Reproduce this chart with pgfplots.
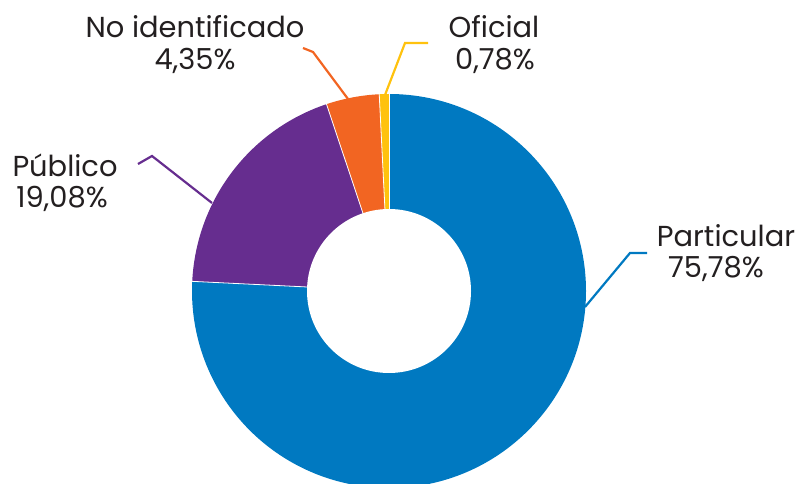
\documentclass[border=0pt]{standalone}
\usepackage{pgfplots}
\pgfplotsset{compat=1.18}
\usepackage{pgfplotstable}
\usepackage{fontspec}
\setmainfont{Poppins}
\usetikzlibrary{calc}
\definecolor{cBlue}{HTML}{0079C1}
\definecolor{cPurple}{HTML}{662D8F}
\definecolor{cOrange}{HTML}{F26522}
\definecolor{cYellow}{HTML}{FFC20E}
\definecolor{cText}{HTML}{231F20}
\pgfplotstableread{
name value
Particular 75.78
Publico 19.08
NoId 4.35
Oficial 0.78
}\piedata
\pgfplotstablegetelem{0}{value}\of\piedata \let\vA\pgfplotsretval
\pgfplotstablegetelem{1}{value}\of\piedata \let\vB\pgfplotsretval
\pgfplotstablegetelem{2}{value}\of\piedata \let\vC\pgfplotsretval
\pgfplotstablegetelem{3}{value}\of\piedata \let\vD\pgfplotsretval
\tikzset{lbl/.style={font=\fontsize{29}{32}\selectfont, text=cText, inner sep=0pt, anchor=base}}
\begin{document}
\begin{tikzpicture}
\useasboundingbox (0,0) rectangle (798bp,484bp);
\pgfmathsetmacro\angO{90}
\pgfmathsetmacro\angA{\angO-3.6*\vA}
\pgfmathsetmacro\angB{\angA-3.6*\vB}
\pgfmathsetmacro\angC{\angB-3.6*\vC}
\pgfmathsetmacro\angD{\angC-3.6*\vD}
\begin{axis}[
  at={(0,0)}, anchor=south west,
  width=798bp, height=484bp, scale only axis,
  xmin=0, xmax=798, ymin=0, ymax=484,
  hide axis, clip=true,
]
\coordinate (C) at (axis cs:389,193);
\fill[cBlue] (C) -- ++(\angO:197bp) arc[start angle=\angO, end angle=\angA, radius=197bp] -- cycle;
\fill[cPurple] (C) -- ++(\angA:197bp) arc[start angle=\angA, end angle=\angB, radius=197bp] -- cycle;
\fill[cOrange] (C) -- ++(\angB:197bp) arc[start angle=\angB, end angle=\angC, radius=197bp] -- cycle;
\fill[cYellow] (C) -- ++(\angC:197bp) arc[start angle=\angC, end angle=\angD, radius=197bp] -- cycle;
\draw[white, line width=0.8pt] (C) -- ++(\angO:198bp);
\draw[white, line width=0.8pt] (C) -- ++(\angA:198bp);
\draw[white, line width=0.8pt] (C) -- ++(\angB:198bp);
\draw[white, line width=0.8pt] (C) -- ++(\angC:198bp);
\fill[white] (C) circle[radius=82bp];
\draw[cBlue, line width=2.2pt] (axis cs:585,177) -- (axis cs:630,231) -- (axis cs:647,231);
\draw[cPurple, line width=2.2pt] (axis cs:212,281) -- (axis cs:152,328) -- (axis cs:138,320);
\draw[cOrange, line width=2.2pt] (axis cs:348,385) -- (axis cs:313,432) -- (axis cs:303,436);
\draw[cYellow, line width=2.2pt] (axis cs:385,389) -- (axis cs:405,441) -- (axis cs:428,441);
\node[lbl] at (axis cs:726,237) {Particular};
\node[lbl] at (axis cs:716,206) {75,78\%};
\node[lbl] at (axis cs:65,307) {Público};
\node[lbl] at (axis cs:62,276) {19,08\%};
\node[lbl] at (axis cs:195,446) {No identificado};
\node[lbl] at (axis cs:195,414) {4,35\%};
\node[lbl] at (axis cs:494,446) {Oficial};
\node[lbl] at (axis cs:495,414) {0,78\%};
\end{axis}
\end{tikzpicture}
\end{document}
